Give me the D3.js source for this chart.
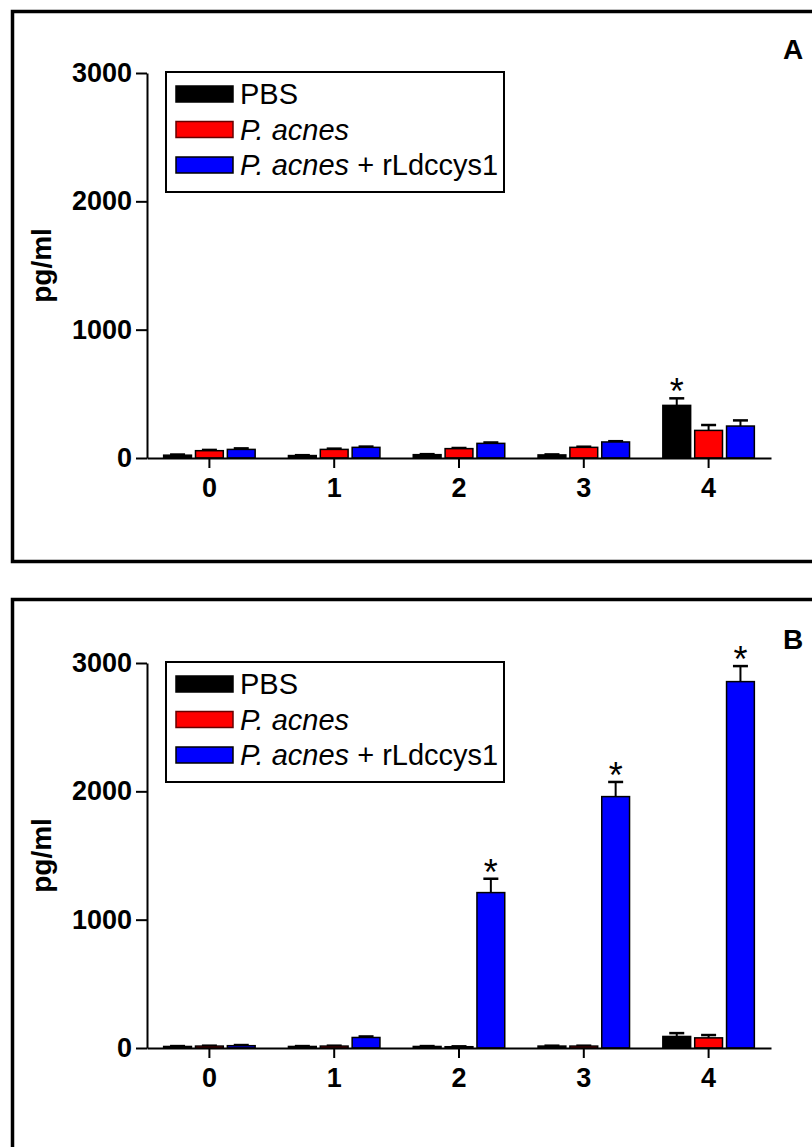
<!DOCTYPE html>
<html>
<head>
<meta charset="utf-8">
<script src="https://cdn.jsdelivr.net/npm/d3@7"></script>
<style>
  body { margin: 0; background: #fff; }
  svg { display: block; font-family: "Liberation Sans", Arial, sans-serif; }
  .axis path, .axis line { stroke: #000; stroke-width: 2; }
  .axis text { font-size: 27px; font-weight: bold; fill: #000; }
</style>
</head>
<body>
<svg id="chart" width="812" height="1147"></svg>
<script>
// categories and series
const days = ["0", "1", "2", "3", "4"];
const seriesNames = ["PBS", "P. acnes", "P. acnes + rLdccys1"];
const seriesColors = ["#000000", "#ff0000", "#0000ff"];
const yTicks = [0, 1000, 2000, 3000];

// panel A (mean and SEM, pg/ml)
const pbsA = [22, 19, 26, 24, 410];
const pbsErrA = [5, 3, 4, 4, 55];
const acnesA = [57, 67, 73, 83, 215];
const acnesErrA = [6, 6, 5, 5, 42];
const rldA = [67, 83, 114, 125, 249];
const rldErrA = [8, 6, 7, 6, 44];
const starsA = [{ series: 0, day: "4" }];

// panel B
const pbsB = [12, 12, 12, 15, 90];
const pbsErrB = [3, 3, 3, 3, 26];
const acnesB = [15, 15, 10, 15, 79];
const acnesErrB = [3, 3, 3, 3, 22];
const rldB = [18, 82, 1211, 1959, 2855];
const rldErrB = [5, 8, 108, 114, 121];
const starsB = [
  { series: 2, day: "2" },
  { series: 2, day: "3" },
  { series: 2, day: "4" },
];

const svg = d3.select("#chart");

const drawPanel = (top, frameY, letter, values, errors, stars) => {
  // outer frame (runs off the right edge like the original)
  svg
    .append("rect")
    .attr("x", 12.5)
    .attr("y", frameY)
    .attr("width", 900)
    .attr("height", 550)
    .attr("fill", "none")
    .attr("stroke", "#000")
    .attr("stroke-width", 3.5);

  const g = svg.append("g").attr("transform", `translate(0,${top})`);

  const x = d3.scaleBand().domain(days).range([147, 771]);
  const xInner = d3
    .scaleBand()
    .domain(d3.range(seriesNames.length))
    .range([0, 93])
    .paddingInner(0.08);
  const y = d3.scaleLinear().domain([0, 3000]).range([458, 73]);

  const groupLeft = (day) => x(day) + x.bandwidth() / 2 - 46.5;

  // bars + error bars
  values.forEach((series, s) => {
    const rows = days.map((d, i) => ({ day: d, v: series[i], e: errors[s][i] }));
    const sg = g.append("g");
    sg.selectAll("line.err")
      .data(rows)
      .enter()
      .append("line")
      .attr("class", "err")
      .attr("x1", (d) => groupLeft(d.day) + xInner(s) + xInner.bandwidth() / 2)
      .attr("x2", (d) => groupLeft(d.day) + xInner(s) + xInner.bandwidth() / 2)
      .attr("y1", (d) => y(d.v))
      .attr("y2", (d) => y(d.v + d.e))
      .attr("stroke", "#000")
      .attr("stroke-width", 2);
    sg.selectAll("line.cap")
      .data(rows)
      .enter()
      .append("line")
      .attr("class", "cap")
      .attr("x1", (d) => groupLeft(d.day) + xInner(s) + xInner.bandwidth() / 2 - 7.5)
      .attr("x2", (d) => groupLeft(d.day) + xInner(s) + xInner.bandwidth() / 2 + 7.5)
      .attr("y1", (d) => y(d.v + d.e))
      .attr("y2", (d) => y(d.v + d.e))
      .attr("stroke", "#000")
      .attr("stroke-width", 2.5);
    sg.selectAll("rect")
      .data(rows)
      .enter()
      .append("rect")
      .attr("x", (d) => groupLeft(d.day) + xInner(s) + 0.75)
      .attr("y", (d) => y(d.v))
      .attr("width", xInner.bandwidth() - 1.5)
      .attr("height", (d) => y(0) - y(d.v))
      .attr("fill", seriesColors[s])
      .attr("stroke", "#000")
      .attr("stroke-width", 1.5);
  });

  // significance stars
  g.selectAll("text.star")
    .data(stars)
    .enter()
    .append("text")
    .attr("class", "star")
    .attr("x", (d) => groupLeft(d.day) + xInner(d.series) + xInner.bandwidth() / 2)
    .attr("y", (d) => {
      const i = days.indexOf(d.day);
      return y(values[d.series][i] + errors[d.series][i]) + 6;
    })
    .attr("text-anchor", "middle")
    .style("font-size", "36px")
    .text("*");

  // axes
  g.append("g")
    .attr("class", "axis")
    .attr("transform", `translate(0,${y(0)})`)
    .call(d3.axisBottom(x).tickSize(10).tickSizeOuter(0).tickPadding(10));

  g.append("g")
    .attr("class", "axis")
    .attr("transform", "translate(147,0)")
    .call(
      d3.axisLeft(y).tickValues(yTicks).tickFormat(d3.format("d")).tickSize(11).tickSizeOuter(0).tickPadding(4)
    );

  g.append("text")
    .attr("transform", `translate(51,${(y(0) + y(3000)) / 2}) rotate(-90)`)
    .attr("text-anchor", "middle")
    .style("font-size", "28px")
    .style("font-weight", "bold")
    .text("pg/ml");

  g.append("text")
    .attr("x", 793)
    .attr("y", 59)
    .attr("text-anchor", "middle")
    .style("font-size", "28px")
    .style("font-weight", "bold")
    .text(letter);

  // legend
  const legend = g.append("g").attr("transform", "translate(166,72)");
  legend
    .append("rect")
    .attr("width", 338)
    .attr("height", 120)
    .attr("fill", "#fff")
    .attr("stroke", "#000")
    .attr("stroke-width", 2);
  const items = legend
    .selectAll("g.item")
    .data(seriesNames)
    .enter()
    .append("g")
    .attr("class", "item")
    .attr("transform", (d, i) => `translate(10,${14 + i * 35.5})`);
  items
    .append("rect")
    .attr("width", 57)
    .attr("height", 16)
    .attr("fill", (d, i) => seriesColors[i])
    .attr("stroke", (d, i) => (i === 1 ? "#600" : "#000"))
    .attr("stroke-width", 1.5);
  const labels = items
    .append("text")
    .attr("x", 64)
    .attr("y", 18)
    .style("font-size", "29px");
  labels.each(function (d) {
    const t = d3.select(this);
    if (d.startsWith("P. acnes")) {
      t.append("tspan").style("font-style", "italic").text("P. acnes");
      const rest = d.slice("P. acnes".length);
      if (rest) t.append("tspan").text(rest.replace(/ /g, "\u00a0"));
    } else {
      t.text(d);
    }
  });
};

drawPanel(0, 11.5, "A", [pbsA, acnesA, rldA], [pbsErrA, acnesErrA, rldErrA], starsA);
drawPanel(590, 599.5, "B", [pbsB, acnesB, rldB], [pbsErrB, acnesErrB, rldErrB], starsB);
</script>
</body>
</html>
